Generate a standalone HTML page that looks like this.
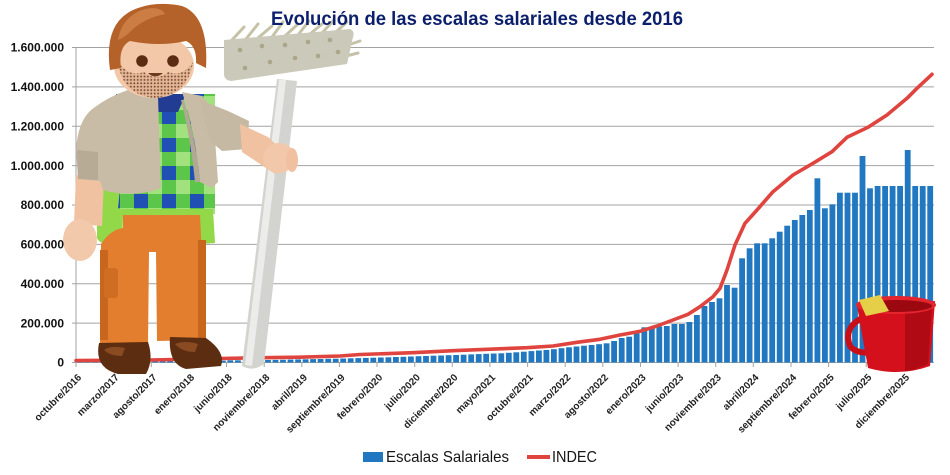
<!DOCTYPE html>
<html><head><meta charset="utf-8"><style>
html,body{margin:0;padding:0;background:#fff;}
svg{display:block;}
text{font-family:"Liberation Sans",Arial,sans-serif;}
</style></head><body>
<svg width="950" height="475" viewBox="0 0 950 475" xmlns="http://www.w3.org/2000/svg">
<defs>
<pattern id="ging" x="162" y="138" width="28" height="28" patternUnits="userSpaceOnUse">
<rect width="28" height="28" fill="#5cc64b"/>
<rect x="0" y="0" width="14" height="14" fill="#2150b4"/>
<rect x="14" y="14" width="14" height="14" fill="#a2e27e"/>
</pattern>
<pattern id="dots" width="3.4" height="3.4" patternUnits="userSpaceOnUse">
<rect width="3.4" height="3.4" fill="#e3b697"/>
<circle cx="1.7" cy="1.7" r="0.95" fill="#7a4a30"/>
</pattern>
</defs>
<rect width="950" height="475" fill="#fff"/>

<!-- gridlines -->
<g stroke="#a3a3a3" stroke-width="1">
<line x1="72" y1="47.5" x2="934" y2="47.5"/>
<line x1="72" y1="86.9" x2="934" y2="86.9"/>
<line x1="72" y1="126.3" x2="934" y2="126.3"/>
<line x1="72" y1="165.6" x2="934" y2="165.6"/>
<line x1="72" y1="205" x2="934" y2="205"/>
<line x1="72" y1="244.4" x2="934" y2="244.4"/>
<line x1="72" y1="283.8" x2="934" y2="283.8"/>
<line x1="72" y1="323.1" x2="934" y2="323.1"/>
<line x1="72" y1="362.5" x2="934" y2="362.5"/>
<line x1="76" y1="47" x2="76" y2="363"/>
</g>
<!-- x ticks -->
<g stroke="#a3a3a3" stroke-width="1">
<line x1="76" y1="362.5" x2="76" y2="367"/><line x1="113.6" y1="362.5" x2="113.6" y2="367"/><line x1="151.3" y1="362.5" x2="151.3" y2="367"/><line x1="188.9" y1="362.5" x2="188.9" y2="367"/><line x1="226.5" y1="362.5" x2="226.5" y2="367"/><line x1="264.2" y1="362.5" x2="264.2" y2="367"/><line x1="301.8" y1="362.5" x2="301.8" y2="367"/><line x1="339.4" y1="362.5" x2="339.4" y2="367"/><line x1="377" y1="362.5" x2="377" y2="367"/><line x1="414.7" y1="362.5" x2="414.7" y2="367"/><line x1="452.3" y1="362.5" x2="452.3" y2="367"/><line x1="489.9" y1="362.5" x2="489.9" y2="367"/><line x1="527.6" y1="362.5" x2="527.6" y2="367"/><line x1="565.2" y1="362.5" x2="565.2" y2="367"/><line x1="602.8" y1="362.5" x2="602.8" y2="367"/><line x1="640.5" y1="362.5" x2="640.5" y2="367"/><line x1="678.1" y1="362.5" x2="678.1" y2="367"/><line x1="715.7" y1="362.5" x2="715.7" y2="367"/><line x1="753.3" y1="362.5" x2="753.3" y2="367"/><line x1="791" y1="362.5" x2="791" y2="367"/><line x1="828.6" y1="362.5" x2="828.6" y2="367"/><line x1="866.2" y1="362.5" x2="866.2" y2="367"/><line x1="903.9" y1="362.5" x2="903.9" y2="367"/>
</g>

<!-- bars -->
<g fill="#2178c0">
<rect x="76.9" y="361" width="5.8" height="1.5"/><rect x="84.4" y="361" width="5.8" height="1.5"/><rect x="92" y="361" width="5.8" height="1.5"/><rect x="99.5" y="361" width="5.8" height="1.5"/><rect x="107" y="361" width="5.8" height="1.5"/><rect x="114.5" y="361" width="5.8" height="1.5"/><rect x="122.1" y="361" width="5.8" height="1.5"/><rect x="129.6" y="361" width="5.8" height="1.5"/><rect x="137.1" y="361" width="5.8" height="1.5"/><rect x="144.6" y="361" width="5.8" height="1.5"/>
<rect x="152.2" y="360.7" width="5.8" height="1.8"/><rect x="159.7" y="360.7" width="5.8" height="1.8"/><rect x="167.2" y="360.7" width="5.8" height="1.8"/><rect x="174.7" y="360.7" width="5.8" height="1.8"/><rect x="182.3" y="360.7" width="5.8" height="1.8"/><rect x="189.8" y="360.7" width="5.8" height="1.8"/><rect x="197.3" y="360.7" width="5.8" height="1.8"/><rect x="204.8" y="360.7" width="5.8" height="1.8"/><rect x="212.4" y="360.7" width="5.8" height="1.8"/><rect x="219.9" y="360.7" width="5.8" height="1.8"/>
<rect x="227.4" y="360.3" width="5.8" height="2.2"/><rect x="235" y="360.3" width="5.8" height="2.2"/><rect x="242.5" y="360.3" width="5.8" height="2.2"/><rect x="250" y="360.3" width="5.8" height="2.2"/><rect x="257.5" y="360.3" width="5.8" height="2.2"/>
<rect x="265.1" y="360" width="5.8" height="2.5"/><rect x="272.6" y="359.9" width="5.8" height="2.6"/><rect x="280.1" y="359.8" width="5.8" height="2.7"/><rect x="287.6" y="359.6" width="5.8" height="2.9"/><rect x="295.2" y="359.4" width="5.8" height="3.1"/>
<rect x="302.7" y="359.3" width="5.8" height="3.2"/><rect x="310.2" y="359.1" width="5.8" height="3.4"/><rect x="317.7" y="359" width="5.8" height="3.5"/><rect x="325.3" y="358.8" width="5.8" height="3.7"/><rect x="332.8" y="358.7" width="5.8" height="3.8"/>
<rect x="340.3" y="358.5" width="5.8" height="4"/><rect x="347.8" y="358.3" width="5.8" height="4.2"/><rect x="355.4" y="358.1" width="5.8" height="4.4"/><rect x="362.9" y="357.9" width="5.8" height="4.6"/><rect x="370.4" y="357.7" width="5.8" height="4.8"/>
<rect x="377.9" y="357.5" width="5.8" height="5"/><rect x="385.5" y="357.3" width="5.8" height="5.2"/><rect x="393" y="357" width="5.8" height="5.5"/><rect x="400.5" y="356.8" width="5.8" height="5.7"/><rect x="408" y="356.5" width="5.8" height="6"/>
<rect x="415.6" y="356.2" width="5.8" height="6.3"/><rect x="423.1" y="356" width="5.8" height="6.5"/><rect x="430.6" y="355.7" width="5.8" height="6.8"/><rect x="438.2" y="355.5" width="5.8" height="7"/><rect x="445.7" y="355.2" width="5.8" height="7.3"/>
<rect x="453.2" y="355" width="5.8" height="7.5"/><rect x="460.7" y="354.7" width="5.8" height="7.8"/><rect x="468.3" y="354.4" width="5.8" height="8.1"/><rect x="475.8" y="354.1" width="5.8" height="8.4"/><rect x="483.3" y="353.8" width="5.8" height="8.7"/>
<rect x="490.8" y="353.5" width="5.8" height="9"/><rect x="498.4" y="353.3" width="5.8" height="9.2"/><rect x="505.9" y="352.8" width="5.8" height="9.7"/><rect x="513.4" y="352.3" width="5.8" height="10.2"/><rect x="520.9" y="351.7" width="5.8" height="10.8"/>
<rect x="528.5" y="351.1" width="5.8" height="11.4"/><rect x="536" y="350.5" width="5.8" height="12"/><rect x="543.5" y="350" width="5.8" height="12.5"/><rect x="551" y="349.2" width="5.8" height="13.3"/><rect x="558.6" y="348.2" width="5.8" height="14.3"/>
<rect x="566.1" y="347.3" width="5.8" height="15.2"/><rect x="573.6" y="346.5" width="5.8" height="16"/><rect x="581.1" y="345.7" width="5.8" height="16.8"/><rect x="588.7" y="345" width="5.8" height="17.5"/><rect x="596.2" y="344.2" width="5.8" height="18.3"/>
<rect x="603.7" y="343.3" width="5.8" height="19.2"/><rect x="611.2" y="341" width="5.8" height="21.5"/><rect x="618.8" y="338" width="5.8" height="24.5"/><rect x="626.3" y="336.7" width="5.8" height="25.8"/><rect x="633.8" y="333.3" width="5.8" height="29.2"/>
<rect x="641.4" y="327.3" width="5.8" height="35.2"/><rect x="648.9" y="327.3" width="5.8" height="35.2"/><rect x="656.4" y="326.5" width="5.8" height="36"/><rect x="663.9" y="326" width="5.8" height="36.5"/><rect x="671.5" y="324" width="5.8" height="38.5"/>
<rect x="679" y="324" width="5.8" height="38.5"/><rect x="686.5" y="322" width="5.8" height="40.5"/><rect x="694" y="315" width="5.8" height="47.5"/><rect x="701.6" y="306" width="5.8" height="56.5"/><rect x="709.1" y="302" width="5.8" height="60.5"/>
<rect x="716.6" y="298.3" width="5.8" height="64.2"/><rect x="724.1" y="285" width="5.8" height="77.5"/><rect x="731.7" y="287.7" width="5.8" height="74.8"/><rect x="739.2" y="258.3" width="5.8" height="104.2"/><rect x="746.7" y="248.3" width="5.8" height="114.2"/>
<rect x="754.2" y="243.3" width="5.8" height="119.2"/><rect x="761.8" y="243.3" width="5.8" height="119.2"/><rect x="769.3" y="238.3" width="5.8" height="124.2"/><rect x="776.8" y="231.7" width="5.8" height="130.8"/><rect x="784.3" y="225.7" width="5.8" height="136.8"/>
<rect x="791.9" y="220" width="5.8" height="142.5"/><rect x="799.4" y="215" width="5.8" height="147.5"/><rect x="806.9" y="210" width="5.8" height="152.5"/><rect x="814.5" y="178.3" width="5.8" height="184.2"/><rect x="822" y="208.3" width="5.8" height="154.2"/>
<rect x="829.5" y="204.3" width="5.8" height="158.2"/><rect x="837" y="192.7" width="5.8" height="169.8"/><rect x="844.6" y="192.7" width="5.8" height="169.8"/><rect x="852.1" y="192.7" width="5.8" height="169.8"/><rect x="859.6" y="156" width="5.8" height="206.5"/>
<rect x="867.1" y="188.3" width="5.8" height="174.2"/><rect x="874.7" y="186" width="5.8" height="176.5"/><rect x="882.2" y="186" width="5.8" height="176.5"/><rect x="889.7" y="186" width="5.8" height="176.5"/><rect x="897.2" y="186" width="5.8" height="176.5"/>
<rect x="904.8" y="150" width="5.8" height="212.5"/><rect x="912.3" y="186" width="5.8" height="176.5"/><rect x="919.8" y="186" width="5.8" height="176.5"/><rect x="927.3" y="186" width="5.8" height="176.5"/>
</g>

<!-- INDEC line -->
<polyline fill="none" stroke="#e0443f" stroke-width="3.6" stroke-linejoin="round" stroke-linecap="round"
points="76,360.5 150,360 263,357.7 300,357.2 340,356 360,354.5 413,352.7 453,350.7 487,349.3 527,347.7 553,346 577,342.3 600,339.3 620,335 640,331.3 657,326 673,320 688,314.3 700,306.7 713,296.7 720,288.3 727,270 735,245 745,223.3 757,210 773,191.7 793,175 813,163.3 832,151.7 847,137.3 868,127.3 887,115 907,98.3 917,88.3 932,74.3"/>

<!-- ===== Figure ===== -->
<!-- mop handle -->
<path d="M277,79 L297,81 L264,364 Q253,372 242,366 Z" fill="#d3d4cf"/>
<path d="M279,80 L286,80 L252,366 L245,365 Z" fill="#ecedea"/>
<!-- mop head -->
<g stroke="#c6c2a8" stroke-width="3" stroke-linecap="round">
<line x1="232" y1="40" x2="244" y2="27"/><line x1="246" y1="39" x2="258" y2="24"/><line x1="258" y1="38" x2="272" y2="26"/><line x1="272" y1="37" x2="283" y2="22"/><line x1="285" y1="36" x2="298" y2="24"/><line x1="298" y1="35" x2="309" y2="21"/><line x1="310" y1="34" x2="322" y2="24"/><line x1="322" y1="33" x2="334" y2="20"/><line x1="336" y1="32" x2="347" y2="22"/><line x1="348" y1="45" x2="360" y2="41"/><line x1="346" y1="56" x2="358" y2="53"/>
</g>
<path d="M224,40 L350,29 Q355,31 353,37 L347,64 L231,81 Q224,80 224,74 Z" fill="#cbc9b9"/>
<g fill="#aba68a">
<circle cx="240" cy="50" r="2.3"/><circle cx="262" cy="46" r="2.3"/><circle cx="285" cy="45" r="2.3"/><circle cx="308" cy="42" r="2.3"/><circle cx="330" cy="40" r="2.3"/>
<circle cx="245" cy="68" r="2.3"/><circle cx="270" cy="62" r="2.3"/><circle cx="295" cy="58" r="2.3"/><circle cx="318" cy="56" r="2.3"/><circle cx="338" cy="52" r="2.3"/>
</g>

<!-- shirt checker -->
<rect x="116" y="94" width="99" height="120" fill="url(#ging)"/>
<path d="M145,94 L186,94 L178,112 L152,112 Z" fill="#223c94"/>
<!-- green apron -->
<path d="M97,185 L120,188 L118,209 L213,209 L215,243 L200,244 L200,217 L123,217 L122,246 Q100,246 97,238 Z" fill="#92d848"/>
<!-- pants -->
<path d="M123,215 L200,215 L206,340 L157,341 L156,252 L149,252 L148,344 L100,344 L101,244 Q110,230 123,228 Z" fill="#e37e2f"/>
<path d="M100,250 L108,250 L108,340 L100,340 Z M198,240 L206,240 L206,338 L198,338 Z" fill="#c8661e"/>
<rect x="104" y="268" width="14" height="30" rx="3" fill="#cf6d22"/>
<!-- shoes -->
<path d="M99,343 Q94,368 118,374 L146,374 Q154,360 148,342 Z" fill="#5c2d10"/>
<path d="M104,350 Q110,345 125,348 L122,356 Q110,356 104,350 Z" fill="#8a4a22"/>
<path d="M170,337 L206,338 Q226,352 221,366 L186,369 Q168,364 170,337 Z" fill="#5c2d10"/>
<path d="M175,344 Q185,340 198,344 L195,352 Q182,352 175,344 Z" fill="#8a4a22"/>

<!-- left arm skin & hand -->
<path d="M76,175 L104,178 L102,226 L74,224 Z" fill="#f0c2a2"/>
<ellipse cx="80" cy="240" rx="17" ry="21" fill="#f3c9ab"/>
<!-- left vest + sleeve -->
<path d="M128,90 L158,97 L161,188 Q140,197 110,192 L103,190 L100,181 L78,179 L76,150 Q78,118 95,107 Q110,96 128,90 Z" fill="#c8bca6"/>
<path d="M77,150 L98,152 L98,180 L78,179 Z" fill="#b7ab95"/>
<!-- right vest -->
<path d="M182,92 L202,96 L213,108 L218,182 L212,188 L200,182 Q196,140 186,104 Z" fill="#c8bca6"/>
<path d="M184,100 Q196,140 200,182 L195,182 Q191,140 181,100 Z" fill="#b3a893"/>
<!-- right sleeve -->
<path d="M200,100 L228,111 L249,121 L247,149 L222,151 L210,141 Z" fill="#c5b9a3"/>
<!-- right forearm + hand -->
<path d="M240,124 L268,137 L282,150 L275,174 L242,152 Z" fill="#f0c2a2"/>
<ellipse cx="279" cy="158" rx="16" ry="15" fill="#f3c8aa"/>
<ellipse cx="292" cy="160" rx="6" ry="12" fill="#f0c0a0"/>

<!-- head -->
<ellipse cx="154" cy="66" rx="40" ry="32" fill="#f2c8a8"/>
<path d="M118,62 Q122,95 155,98 Q188,95 193,62 Q182,78 168,72 Q156,82 144,72 Q130,78 118,62 Z" fill="url(#dots)"/>
<path d="M148,73 Q155,80 163,73 Z" fill="#6b3b20"/>
<circle cx="142" cy="61" r="5.8" fill="#5b2b12"/>
<circle cx="173" cy="61" r="5.8" fill="#5b2b12"/>
<path d="M110,70 Q103,20 138,8 Q158,1 182,6 Q209,16 206,68 L196,63 Q197,46 186,41 Q160,47 130,41 Q118,47 121,68 Z" fill="#b5622a"/>
<path d="M118,40 Q122,16 145,9 Q160,6 165,14 Q145,18 132,30 Q124,38 118,40 Z" fill="#cc7d43"/>

<!-- bucket -->
<path d="M862,318 Q843,328 850,346 Q858,356 880,351" fill="none" stroke="#c80f18" stroke-width="6"/>
<path d="M857,306 L935,301 L930,366 Q900,377 868,368 Z" fill="#d3101b"/>
<path d="M905,310 L932,306 L928,364 Q915,370 905,371 Z" fill="#b00a14"/>
<ellipse cx="896" cy="305" rx="40" ry="9" fill="#e5252d"/>
<ellipse cx="897" cy="306" rx="35" ry="6" fill="#9c0810"/>
<path d="M859,300 L880,295 L889,311 L866,316 Z" fill="#e6cf48"/>

<!-- y-axis labels -->
<g font-size="12" font-weight="bold" fill="#111" text-anchor="end">
<text x="64" y="51.7">1.600.000</text>
<text x="64" y="91.1">1.400.000</text>
<text x="64" y="130.5">1.200.000</text>
<text x="64" y="169.8">1.000.000</text>
<text x="64" y="209.2">800.000</text>
<text x="64" y="248.6">600.000</text>
<text x="64" y="288">400.000</text>
<text x="64" y="327.3">200.000</text>
<text x="64" y="366.7">0</text>
</g>

<!-- x-axis labels -->
<g font-size="10" font-weight="bold" fill="#222" text-anchor="end">
<text transform="translate(82,378) rotate(-45)">octubre/2016</text>
<text transform="translate(119.6,378) rotate(-45)">marzo/2017</text>
<text transform="translate(157.3,378) rotate(-45)">agosto/2017</text>
<text transform="translate(194.9,378) rotate(-45)">enero/2018</text>
<text transform="translate(232.5,378) rotate(-45)">junio/2018</text>
<text transform="translate(270.2,378) rotate(-45)">noviembre/2018</text>
<text transform="translate(307.8,378) rotate(-45)">abril/2019</text>
<text transform="translate(345.4,378) rotate(-45)">septiembre/2019</text>
<text transform="translate(383,378) rotate(-45)">febrero/2020</text>
<text transform="translate(420.7,378) rotate(-45)">julio/2020</text>
<text transform="translate(458.3,378) rotate(-45)">diciembre/2020</text>
<text transform="translate(495.9,378) rotate(-45)">mayo/2021</text>
<text transform="translate(533.6,378) rotate(-45)">octubre/2021</text>
<text transform="translate(571.2,378) rotate(-45)">marzo/2022</text>
<text transform="translate(608.8,378) rotate(-45)">agosto/2022</text>
<text transform="translate(646.5,378) rotate(-45)">enero/2023</text>
<text transform="translate(684.1,378) rotate(-45)">junio/2023</text>
<text transform="translate(721.7,378) rotate(-45)">noviembre/2023</text>
<text transform="translate(759.3,378) rotate(-45)">abril/2024</text>
<text transform="translate(797,378) rotate(-45)">septiembre/2024</text>
<text transform="translate(834.6,378) rotate(-45)">febrero/2025</text>
<text transform="translate(872.2,378) rotate(-45)">julio/2025</text>
<text transform="translate(909.9,378) rotate(-45)">diciembre/2025</text>
</g>

<!-- title -->
<text x="271" y="25" font-size="19" font-weight="bold" fill="#0c1f6c" textLength="412" lengthAdjust="spacingAndGlyphs">Evolución de las escalas salariales desde 2016</text>

<!-- legend -->
<rect x="363" y="452" width="20" height="10" fill="#2178c0"/>
<text x="386" y="462" font-size="16" fill="#151515" textLength="123" lengthAdjust="spacingAndGlyphs">Escalas Salariales</text>
<line x1="527" y1="457" x2="550" y2="457" stroke="#e0443f" stroke-width="4"/>
<text x="552" y="462" font-size="16" fill="#151515" textLength="45" lengthAdjust="spacingAndGlyphs">INDEC</text>
</svg>
</body></html>
